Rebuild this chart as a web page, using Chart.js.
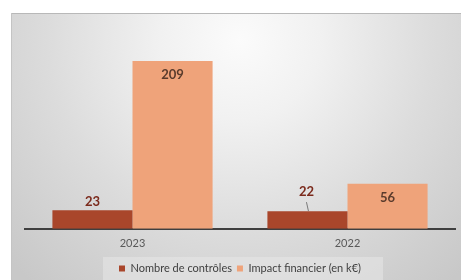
<!DOCTYPE html>
<html>
<head>
<meta charset="utf-8">
<script src="https://cdn.jsdelivr.net/npm/chart.js@4/dist/chart.umd.min.js"></script>
<style>
  html, body { margin: 0; padding: 0; background: #fff; }
  #wrap { width: 461px; height: 280px; position: relative; }
</style>
</head>
<body>
<div id="wrap"><canvas id="c" width="461" height="280"></canvas></div>
<script>
var years = ['2023', '2022'];
var nbControles = [23, 22];
var impactFinancier = [209, 56];
var seriesNames = ['Nombre de contrôles', 'Impact financier (en k€)'];

// panel background (grey gradient, like the office chart area)
var bgPlugin = {
  id: 'bg',
  beforeDraw: function (chart) {
    var ctx = chart.ctx;
    ctx.save();
    var g = ctx.createRadialGradient(240, 40, 0, 240, 40, 320);
    g.addColorStop(0, '#fbfbfb');
    g.addColorStop(0.25, '#f1f1f1');
    g.addColorStop(0.6, '#dcdcdc');
    g.addColorStop(1, '#c8c8c8');
    ctx.fillStyle = g;
    ctx.fillRect(11, 13, 450, 267);
    ctx.fillStyle = '#b8b8b8';
    ctx.fillRect(11, 13, 450, 1);
    ctx.fillStyle = '#c4c4c4';
    ctx.fillRect(11, 13, 1, 267);
    // lighter box behind legend
    ctx.fillStyle = 'rgba(235,235,235,0.45)';
    ctx.fillRect(103, 257, 280, 23);
    ctx.restore();
  }
};

var labelPlugin = {
  id: 'labels',
  afterDatasetsDraw: function (chart) {
    var ctx = chart.ctx;
    ctx.save();
    ctx.font = 'bold 13px Lato';
    ctx.textAlign = 'center';
    ctx.textBaseline = 'middle';
    chart.getDatasetMeta(0).data.forEach(function (bar, i) {
      ctx.fillStyle = '#7b2a1c';
      if (i === 1) {
        ctx.fillText(nbControles[i], bar.x - 1, bar.y - 19);
        ctx.strokeStyle = '#7a7a7a';
        ctx.lineWidth = 1;
        ctx.beginPath();
        ctx.moveTo(bar.x - 1, bar.y - 9);
        ctx.lineTo(bar.x + 1, bar.y);
        ctx.stroke();
      } else {
        ctx.fillText(nbControles[i], bar.x, bar.y - 9);
      }
    });
    chart.getDatasetMeta(1).data.forEach(function (bar, i) {
      ctx.fillStyle = '#5a3b2c';
      ctx.fillText(impactFinancier[i], bar.x, bar.y + 14);
    });
    ctx.restore();
  }
};

new Chart(document.getElementById('c'), {
  type: 'bar',
  data: {
    labels: years,
    datasets: [{
      label: seriesNames[0],
      data: nbControles,
      backgroundColor: '#a9462b'
    }, {
      label: seriesNames[1],
      data: impactFinancier,
      backgroundColor: '#efa37a'
    }]
  },
  options: {
    responsive: false,
    animation: false,
    devicePixelRatio: 1,
    layout: { padding: { left: 25, right: 6, top: 36, bottom: -4 } },
    datasets: { bar: { categoryPercentage: 0.745, barPercentage: 1 } },
    scales: {
      x: {
        grid: { display: false },
        border: { color: '#3f3f3f', width: 2 },
        ticks: { color: '#595959', font: { family: 'Lato', size: 11 }, padding: 0 },
        afterFit: function (scale) { scale.height += 8; }
      },
      y: {
        display: false,
        min: 0,
        max: 240
      }
    },
    plugins: {
      legend: {
        position: 'bottom',
        labels: {
          boxWidth: 6, boxHeight: 6, padding: 5,
          color: '#404040',
          font: { family: 'Lato', size: 11 }
        }
      },
      tooltip: { enabled: false }
    }
  },
  plugins: [bgPlugin, labelPlugin]
});
</script>
</body>
</html>
